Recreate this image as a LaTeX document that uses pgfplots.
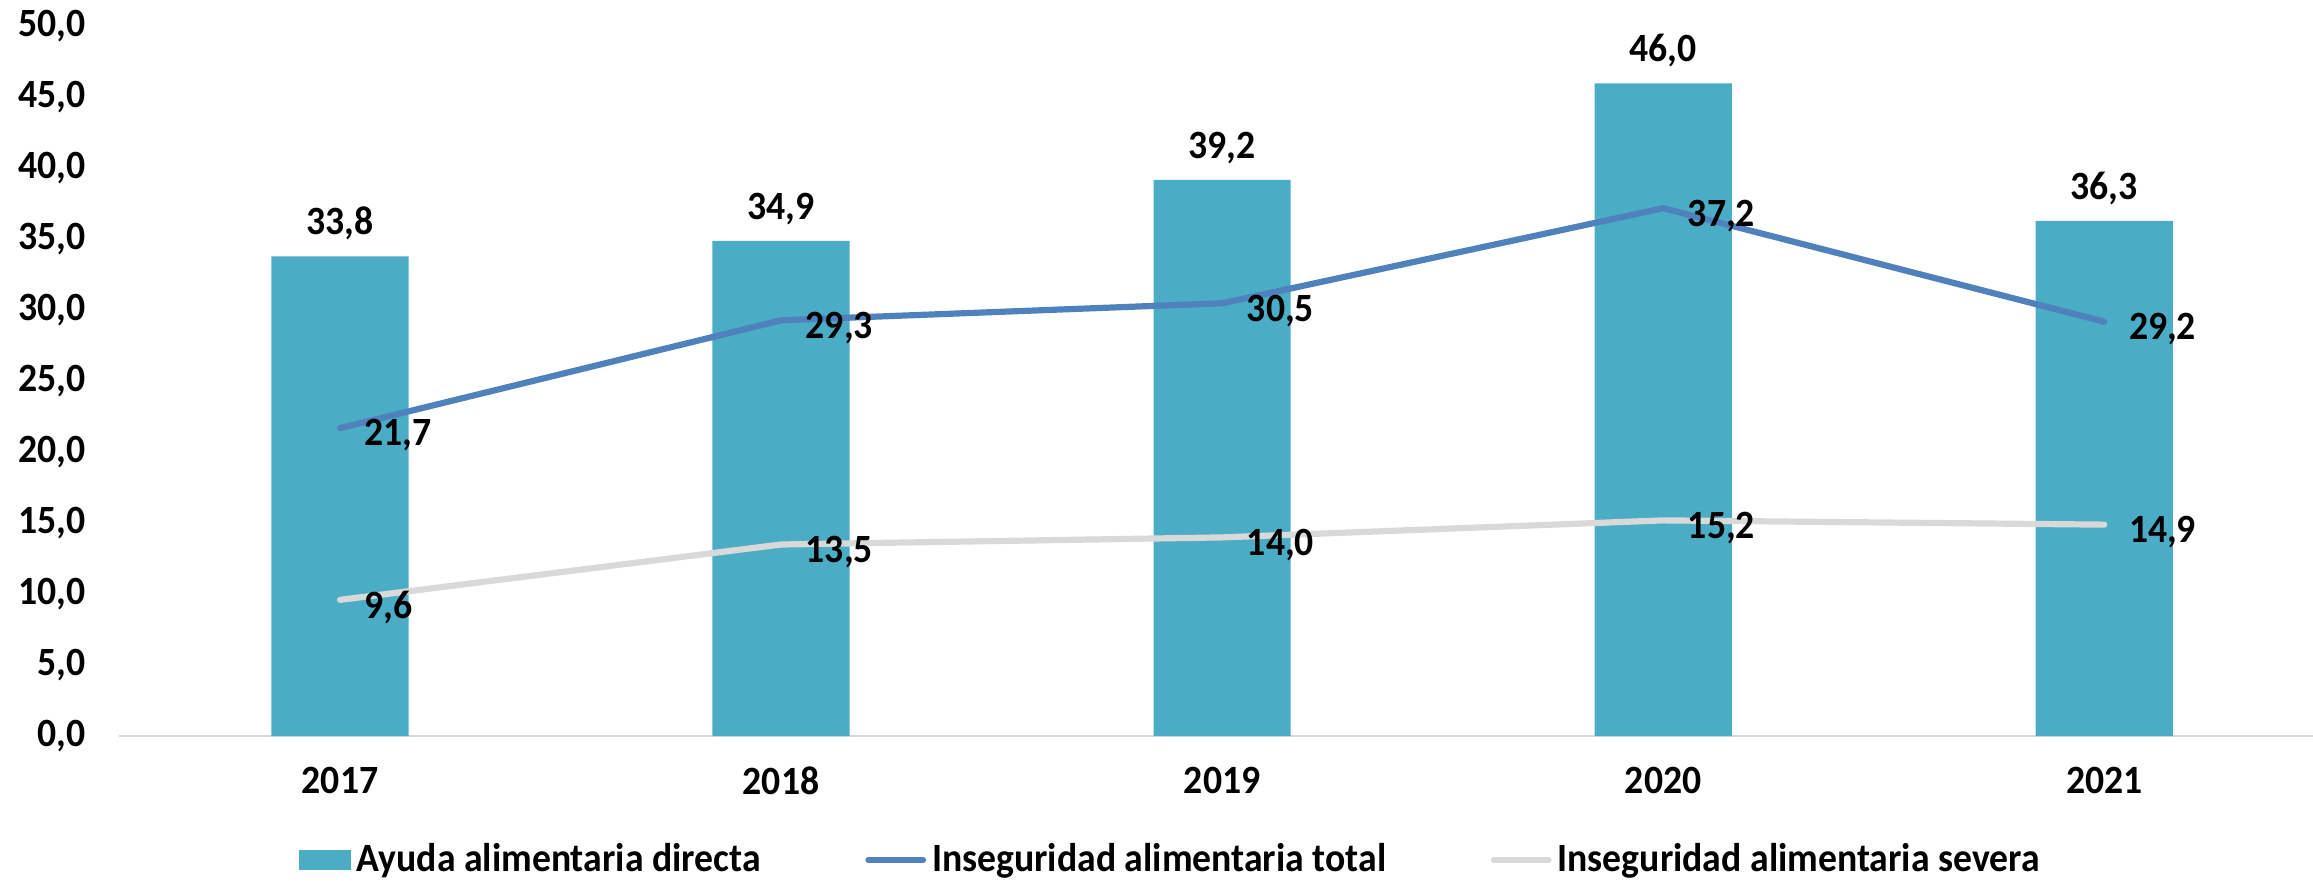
\documentclass[border=0pt]{standalone}
\usepackage{fontspec}
\setmainfont{Carlito}[FakeStretch=0.94]
\usepackage{pgfplots}
\pgfplotsset{compat=1.18}
\definecolor{barcol}{HTML}{4BACC6}
\definecolor{totcol}{HTML}{4F81BD}
\definecolor{sevcol}{HTML}{D9D9D9}
\definecolor{axgray}{HTML}{D9D9D9}
\begin{document}
\begin{tikzpicture}
\useasboundingbox (-40.5pt,-49pt) rectangle (743.5pt,249.5pt);
\begin{axis}[
  scale only axis,
  width=747.5pt, height=240.5pt,
  xmin=-0.5, xmax=4.5, ymin=0, ymax=50,
  clip=false,
  font=\bfseries\fontsize{13.6}{16}\selectfont,
  /pgf/number format/assume math mode=true,
  /pgf/number format/.cd, fixed, fixed zerofill, precision=1, use comma, /pgfplots/.cd,
  xtick={0,1,2,3,4},
  xticklabels={2017,2018,2019,2020,2021},
  ytick={0,5,...,50},
  separate axis lines,
  axis x line*=bottom,
  axis y line*=left,
  y axis line style={draw=none},
  x axis line style={draw=axgray, line width=0.75pt},
  major tick length=0pt,
  yticklabel style={xshift=-8pt},
  xticklabel style={yshift=-7pt},
  legend columns=3,
  legend style={at={(0.4775,-0.1746)}, anchor=center, draw=none, fill=none,
    font=\bfseries\fontsize{13.6}{16}\selectfont,
    /tikz/every even column/.append style={column sep=33.5pt},
    cells={anchor=west}},
]
\addplot[ybar, bar width=46.5pt, fill=barcol, draw=none,
  nodes near coords, nodes near coords style={anchor=south, yshift=2pt, text=black},
  legend image code/.code={\fill[barcol] (0pt,-3.5pt) rectangle (17.5pt,3.5pt);}]
  coordinates {(0,33.8) (1,34.9) (2,39.2) (3,46.0) (4,36.3)};
\addlegendentry{Ayuda alimentaria directa}
\addplot[sharp plot, color=totcol, line width=2.1pt, line cap=round, line join=round,
  nodes near coords, nodes near coords style={anchor=west, xshift=4pt, yshift=-2.5pt, text=black},
  legend image code/.code={\draw[totcol, line width=2.1pt, line cap=round] (0pt,0pt) -- (18.5pt,0pt);}]
  coordinates {(0,21.7) (1,29.3) (2,30.5) (3,37.2) (4,29.2)};
\addlegendentry{Inseguridad alimentaria total}
\addplot[sharp plot, color=sevcol, line width=2.1pt, line cap=round, line join=round,
  nodes near coords, nodes near coords style={anchor=west, xshift=4pt, yshift=-2.5pt, text=black},
  legend image code/.code={\draw[sevcol, line width=2.1pt, line cap=round] (0pt,0pt) -- (18.5pt,0pt);}]
  coordinates {(0,9.6) (1,13.5) (2,14.0) (3,15.2) (4,14.9)};
\addlegendentry{Inseguridad alimentaria severa}
\end{axis}
\end{tikzpicture}
\end{document}
